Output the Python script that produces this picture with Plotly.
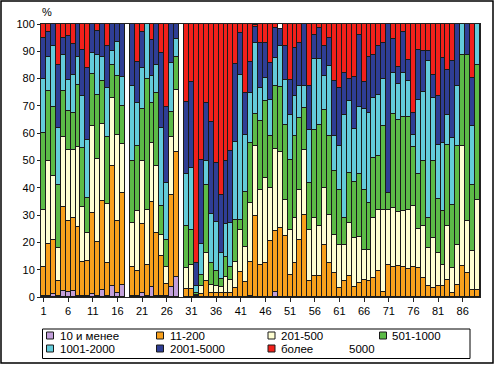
import plotly.graph_objects as go

categories = list(range(1, 90))
tick_vals = list(range(1, 87, 5))
tick_text = [str(v) for v in tick_vals]
N = None

s_10 = [0.3,0.5,1,0.2,2.2,1.7,2.1,0.3,0.3,0.5,1,0.5,2.5,0.3,4.2,1.3,4.3,N,0.2,0.3,1.6,0.3,3.8,0.5,0.5,0.3,3.5,7.2,N,
        0,0,0,0,0,0,0,0,0,0,0,0,0,0.5,0,0,0,0,2,0,0,0,0,0,0,0,0,0,0,0,0,0,0,0,0,0,0,0,0,0,0,0,0,0,0,0,0,0,0,0,0,0,0,0,0,0,0,0,0,0]
s_200 = [10.7,19,20,5.8,30.6,26.3,26.7,25.5,12.4,12.8,29.6,19.8,32.5,12,43.8,26.7,33.9,N,10.9,9.3,25.1,11.4,31,23,14.5,4.4,33.9,46,N,
         3,3,0.5,1,6,1.3,1.3,1.3,1.6,1.3,3.2,9.3,5.6,12.5,29.5,11.8,12.5,20.4,22.2,25.1,22.2,8.2,12.5,21,30.2,5.7,7.6,7.6,19.2,12.5,8.8,
         3.3,5.7,7.6,3.7,5,6.3,5.7,7,9.4,2,11.7,11,11.5,11,10.4,11,10.5,7,3.9,3.3,3.9,3.9,6.3,1.5,4.5,11.2,8.8,2.7,2.7]
s_500 = [21,30.5,23.5,12,25.7,26,24.9,29.2,20.1,10,32.2,30.4,28.4,21.7,25,31.3,17.8,N,16.1,22,23.2,20.2,21.5,24.5,7.7,6.3,21.3,22.6,N,
         7.8,8.7,0.3,3,10,3.1,2.7,2.2,5.6,4.9,9.7,15.2,12.8,21.3,25.8,27.5,31.1,19.5,29.9,28.1,13.5,16.5,16.4,18.3,23.8,19,21.4,18.3,20.7,17.7,14,
         15.9,13.5,19.5,17.9,17,11,11.6,21.9,22.6,30,20.3,21.5,19.5,20.5,21.6,22.5,14.5,19,14,18.3,12.2,7.9,19.6,9.1,14.7,44,18.9,14,33]
s_1000 = [28,25.5,25,23,17,14,13.6,22.7,21.9,13.1,18.9,23.3,15.6,24.5,12,21.7,14,N,22.7,23.8,18.8,47.8,14.6,26.6,10.6,10,9.2,12.2,N,
          15.2,12.8,0.7,4,25,7.9,5.6,3.2,7.3,4.9,15.3,3.7,20.2,22,11.6,25,28.1,19,23.2,23.8,27.4,25.6,30,26.3,15.2,17.1,32.3,37.2,28.7,28.7,23.2,
          20.1,9.7,18.3,20.4,23,22,17.1,22,19.5,30.5,6,34.5,34,34.5,34,21.5,20,24,11,28.1,19.8,19.6,29.9,23.2,36,33.6,61.1,24.4,49.4]
s_2000 = [20,12.5,22.5,21,13,11.5,14,10.1,19,21.1,7.6,14.8,9,18,5,12.5,10.7,N,27.4,15.8,15.1,20.3,10.1,10.4,28.5,20.6,17.7,6.4,N,
          19,22.6,2.5,11.5,9,18,18,9.5,12.2,15.9,28.7,53.1,20.7,18.3,26.3,12.3,8.5,13.4,10.4,14.9,16.5,16.5,14.6,11.6,8,19.5,25.7,23.9,12.2,25.6,12.9,
          15.9,37.9,26.3,19.6,24.6,29.4,33,22,22.6,17.5,0,15,13,16,13,4.5,27,25,57.4,23.2,19.9,25,11,24.4,22,11.2,0,21.4,14.9]
s_5000 = [15,9,8,23,6.5,16,11.4,12.2,16.8,26.3,10.7,8.7,12,15.5,10,6.5,19.3,N,22.7,15,13.2,0,13,15,27.7,28.1,14.4,5.6,N,
          26.6,31.8,8.3,30.7,21,33.9,21.4,21.2,23.2,26.5,28.4,15.3,15.3,11.6,5.8,16.4,12.8,13.4,11,6.1,12.2,12.8,17.7,15.8,22.8,15.9,9,11.5,11,10.4,20.1,
          21.4,15.2,8.3,19.1,26.4,10.2,20.6,15.7,17.9,13,62,12.4,6.4,15.2,7.8,7.8,18.5,15,3.7,8.5,17.7,31.1,16.5,28.1,22.8,0,11.2,17.7,0]
s_more = [5,3,0,15,5,4.5,7.3,0,9.5,16.2,0,2.5,0,8,0,0,0,N,0,13.8,3,0,6,0,10.5,30.3,0,0,N,
          28.4,21.1,87.7,49.8,29,35.8,51,62.6,50.1,46.5,14.7,3.4,25.4,14.3,0.5,7,7,14.3,3.3,0,8.2,20.4,8.8,7,0,22.8,4,1.5,8.2,5.1,21,
          23.4,18,20,19.3,4,21.1,12,11.4,8,7,0,5.6,15.6,2.8,13.2,32.7,9.5,10,10,18.6,26.5,12.5,16.7,13.7,0,0,0,19.8,0]

series_names = ["10 и менее", "11-200", "201-500", "501-1000", "1001-2000", "2001-5000", "более"]
series_values = [s_10, s_200, s_500, s_1000, s_2000, s_5000, s_more]
colors = ["#C29FDA", "#F8A01C", "#FFFFD2", "#5CBB47", "#63CBDA", "#2F3E95", "#F2201B"]

W, H = 495, 365
L, R, T, B = 41, 480, 24, 297


def px(x):
    return (x - L) / (R - L)


def py(y):
    return (B - y) / (B - T)


fig = go.Figure()
for name, vals, col in zip(series_names, series_values, colors):
    yv = [None if (v is None or v == 0) else v for v in vals]
    fig.add_trace(go.Bar(x=categories, y=yv, name=name, showlegend=False,
                         marker=dict(color=col, line=dict(color="#1a1a1a", width=1))))

font = "Arial, Liberation Sans, sans-serif"

# legend box drawn as in the reference (4 columns, 2 rows)
leg_cols_sym = [50, 160, 271.5, 383]
leg_cols_txt = [58, 168, 279, 390]
leg_rows = [335.5, 348.5]
shapes = [dict(type="rect", xref="paper", yref="paper",
               x0=px(1), x1=px(493), y0=py(363), y1=py(1),
               line=dict(color="black", width=1.5), fillcolor="rgba(0,0,0,0)"),
          dict(type="rect", xref="paper", yref="paper",
               x0=px(42.5), x1=px(470), y0=py(358.5), y1=py(329),
               line=dict(color="black", width=1), fillcolor="rgba(0,0,0,0)")]
annotations = [dict(text="%", xref="paper", yref="paper", x=px(47), y=py(12),
                    showarrow=False, font=dict(size=11), xanchor="center", yanchor="middle")]
for i, (name, col) in enumerate(zip(series_names, colors)):
    r, c = divmod(i, 4)
    cx, cy = leg_cols_sym[c], leg_rows[r]
    shapes.append(dict(type="rect", xref="paper", yref="paper",
                       x0=px(cx - 3.5), x1=px(cx + 3.5), y0=py(cy + 3.5), y1=py(cy - 3.5),
                       line=dict(color="#1a1a1a", width=1), fillcolor=col))
    annotations.append(dict(text=name, xref="paper", yref="paper",
                            x=px(leg_cols_txt[c]), y=py(cy), showarrow=False,
                            xanchor="left", yanchor="middle", font=dict(size=11.5)))
annotations.append(dict(text="5000", xref="paper", yref="paper", x=px(346.5), y=py(leg_rows[1]),
                        showarrow=False, xanchor="left", yanchor="middle", font=dict(size=11.5)))

fig.update_layout(
    barmode="stack", bargap=0,
    width=W, height=H,
    margin=dict(l=L, r=W - R, t=T, b=H - B, autoexpand=False),
    paper_bgcolor="white", plot_bgcolor="white",
    font=dict(family=font, size=11, color="black"),
    showlegend=False,
    xaxis=dict(range=[0.5, 89.5], tickvals=tick_vals, ticktext=tick_text,
               showline=True, mirror=True, linecolor="#222", linewidth=1,
               ticks="outside", ticklen=4, tickcolor="#222", showgrid=False,
               zeroline=False, tickfont=dict(size=11)),
    yaxis=dict(range=[0, 100], dtick=10, showline=True, mirror=True,
               linecolor="#222", linewidth=1, ticks="outside", ticklen=3,
               tickcolor="#222", showgrid=False, zeroline=False,
               tickfont=dict(size=11)),
    annotations=annotations,
    shapes=shapes,
)

fig.write_html("out.html", config={"displayModeBar": False},
               post_script="document.body.style.margin='0';document.body.style.overflow='hidden';")
